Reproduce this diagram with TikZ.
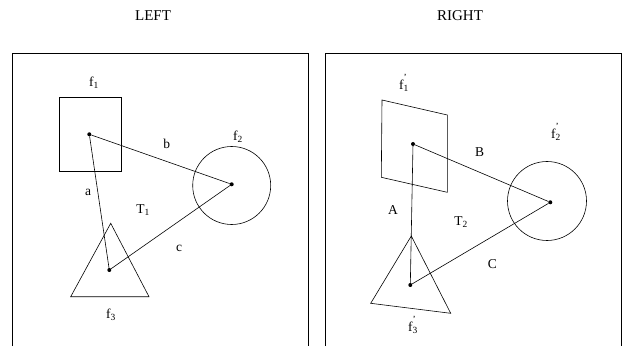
\documentclass[tikz,border=0pt]{standalone}
\usepackage{fontspec}
\setmainfont{Liberation Serif}
\usetikzlibrary{positioning}
\newcommand{\fl}[2]{f\rlap{\raisebox{0.25em}{\textsuperscript{#2}}}\textsubscript{#1}}
\tikzset{
  frame/.style={draw, line width=0.7pt},
  shapeline/.style={draw, line width=0.6pt},
  vertex/.style={circle, fill=black, inner sep=0pt, minimum size=4pt},
  edge/.style={draw, line width=0.6pt},
  lbl/.style={font=\fontsize{13.5}{15}\selectfont, inner sep=1pt},
  title/.style={font=\fontsize{15}{17}\selectfont},
}
\begin{document}
\begin{tikzpicture}[x=1pt, y=-1pt]
  \useasboundingbox (0,0) rectangle (623,347);

  % ---- Titles and frames ----
  \node (tleft) [title] at (153,16) {LEFT};
  \node (tright) [title] at (460,16) {RIGHT};
  \draw [frame] (12,346) |- (308,53) -- (308,346);
  \draw [frame] (325,346) |- (621,53) -- (621,346);

  % ---- Left: features ----
  \draw [shapeline] (59,97) rectangle (121,171);
  \draw [shapeline] (231.7,185.5) circle (39);
  \draw [shapeline] (110.7,223.3) -- (70.7,296.7) -- (149,296.7) -- cycle;
  \node (p1) [vertex] at (89.3,134.3) {};
  \node (p2) [vertex] at (231.7,184.3) {};
  \node (p3) [vertex] at (109.3,270) {};
  \node (f1) [lbl] at (94,83) {\fl{1}{}};
  \node (f2) [lbl] at (238,137) {\fl{2}{}};
  \node (f3) [lbl] at (111,315) {\fl{3}{}};

  % ---- Left: triangle T1 ----
  \draw [edge] (p1) -- (p3);
  \draw [edge] (p1) -- (p2);
  \draw [edge] (p3) -- (p2);
  \node (a) [lbl] at (88,192.7) {a};
  \node (b) [lbl] at (166.7,144) {b};
  \node (c) [lbl] at (179,248) {c};
  \node (t1) [lbl] at (143,210) {T\textsubscript{1}};

  % ---- Right: features ----
  \draw [shapeline] (382,100) -- (447.3,115) -- (447.3,192.3) -- (381.3,177.3) -- cycle;
  \draw [shapeline] (547,201) circle (39.5);
  \draw [shapeline] (411.3,236) -- (370.7,303.3) -- (450.7,313.3) -- cycle;
  \node (q1) [vertex] at (413,144) {};
  \node (q2) [vertex] at (550.3,202.3) {};
  \node (q3) [vertex] at (410.3,285) {};
  \node (g1) [lbl] at (404,83) {\fl{1}{'}};
  \node (g2) [lbl] at (556,132) {\fl{2}{'}};
  \node (g3) [lbl] at (413,325) {\fl{3}{'}};

  % ---- Right: triangle T2 ----
  \draw [edge] (q1) -- (q3);
  \draw [edge] (q1) -- (q2);
  \draw [edge] (q3) -- (q2);
  \node (ua) [lbl] at (393,210) {A};
  \node (ub) [lbl] at (479.7,151.7) {B};
  \node (uc) [lbl] at (492.3,264.3) {C};
  \node (t2) [lbl] at (461,222.5) {T\textsubscript{2}};

\end{tikzpicture}
\end{document}
